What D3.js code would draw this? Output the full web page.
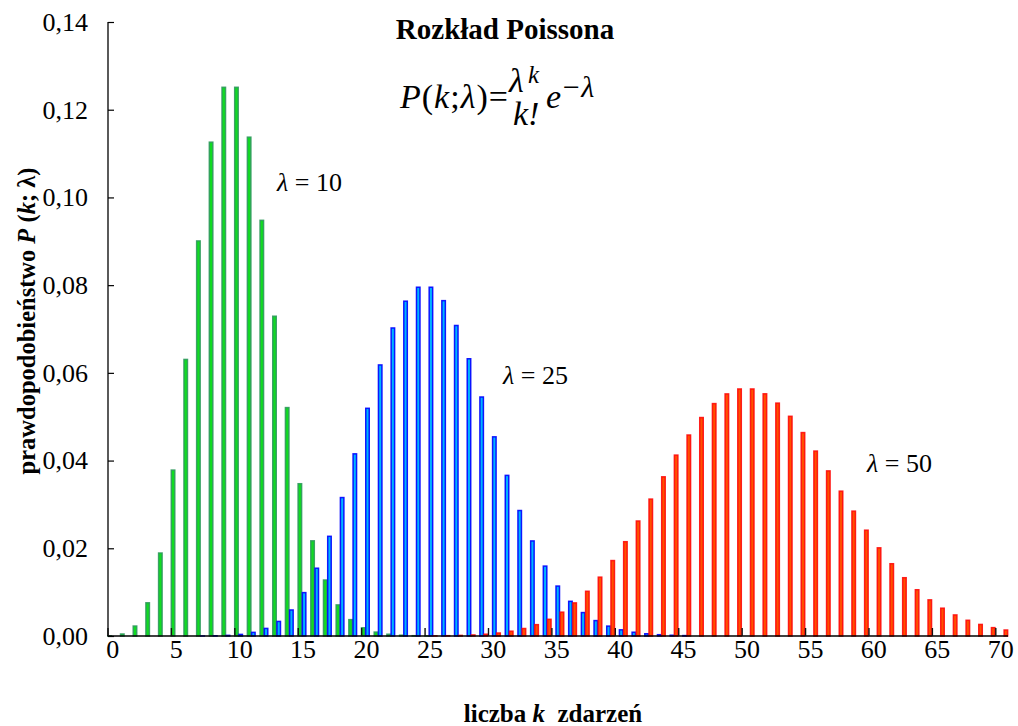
<!DOCTYPE html>
<html>
<head>
<meta charset="utf-8">
<script src="https://cdn.jsdelivr.net/npm/d3@7"></script>
</head>
<body style="margin:0;padding:0;background:#fff">
<svg id="chart" width="1018" height="726" font-family="Liberation Serif"></svg>
<script>
// ---- data ----
const categories = d3.range(0, 71);           // k = 0 .. 70
const xTickValues = [0, 5, 10, 15, 20, 25, 30, 35, 40, 45, 50, 55, 60, 65, 70];
const yTickValues = [0, 0.02, 0.04, 0.06, 0.08, 0.10, 0.12, 0.14];

// lambda = 10, k = 0 .. 25
const kGreen = d3.range(0, 26);
const valGreen = [0.0000454, 0.000454, 0.00227, 0.00757, 0.01892, 0.03783, 0.06306, 0.09008,
  0.11260, 0.12511, 0.12511, 0.11374, 0.09478, 0.07291, 0.05208, 0.03472, 0.02170, 0.01276,
  0.00709, 0.00373, 0.00187, 0.00089, 0.00040, 0.00018, 0.00007, 0.00003];

// lambda = 25, k = 7 .. 45
const kBlue = d3.range(7, 46);
const valBlue = [0.0000168, 0.0000526, 0.000146, 0.000365, 0.000829, 0.001728, 0.003324, 0.005935,
  0.009891, 0.015455, 0.022728, 0.031566, 0.041534, 0.051918, 0.061807, 0.070235, 0.076342,
  0.079523, 0.079523, 0.076465, 0.070801, 0.063215, 0.054496, 0.045413, 0.036624, 0.028612,
  0.021676, 0.015938, 0.011384, 0.007906, 0.005342, 0.003514, 0.002253, 0.001408, 0.000859,
  0.000511, 0.000297, 0.000169, 0.0000938];

// lambda = 50, k = 25 .. 70
const kRed = d3.range(25, 71);
const valRed = [0.0000371, 0.0000713, 0.000132, 0.000236, 0.000406, 0.000677, 0.001092, 0.001707,
  0.002586, 0.003803, 0.005432, 0.007545, 0.010196, 0.013416, 0.017200, 0.021500, 0.026219,
  0.031213, 0.036294, 0.041243, 0.045826, 0.049811, 0.052991, 0.055199, 0.056325, 0.056325,
  0.055221, 0.053097, 0.050091, 0.046381, 0.042164, 0.037646, 0.033023, 0.028468, 0.024125,
  0.020104, 0.016479, 0.013289, 0.010547, 0.008240, 0.006338, 0.004802, 0.003583, 0.002635,
  0.001909, 0.001364];

const seriesLabels = ["λ = 10", "λ = 25", "λ = 50"];

// ---- layout ----
const FONT = "Liberation Serif";
const svg = d3.select("#chart");
const x = d3.scaleBand().domain(categories).range([107.5, 1008]).paddingInner(0).paddingOuter(0);
const y = d3.scaleLinear().domain([0, 0.14]).range([636, 22]);
const bw = x.bandwidth();

const series = [
  { k: kGreen, v: valGreen, off: 1/6, fill: "#10dd20", stroke: "#2f9a5c" },
  { k: kBlue,  v: valBlue,  off: 1/2, fill: "#00b4ff", stroke: "#0000ff" },
  { k: kRed,   v: valRed,   off: 5/6, fill: "#ff5000", stroke: "#ff0a0a" }
];

const barW = 3.5;
series.forEach(s => {
  svg.append("g").selectAll("rect")
    .data(s.k.map((k, i) => ({ k, v: s.v[i] })))
    .join("rect")
    .attr("x", d => x(d.k) + bw * s.off - barW / 2)
    .attr("y", d => y(d.v))
    .attr("width", barW)
    .attr("height", d => Math.max(0, y(0) - y(d.v)))
    .attr("fill", s.fill)
    .attr("stroke", s.stroke)
    .attr("stroke-opacity", 0.9)
    .attr("stroke-width", 1.5);
});

// ---- y axis ----
const fmt = v => d3.format(".2f")(v).replace(".", ",");
const yAxis = d3.axisLeft(y).tickValues(yTickValues).tickSize(-6).tickPadding(20).tickFormat(fmt);
const gy = svg.append("g").attr("transform", "translate(108,0)").call(yAxis)
  .attr("font-family", FONT).attr("font-size", 26);
gy.select(".domain").attr("stroke", "#000").attr("stroke-width", 1.3).attr("d", "M0,22V636");
gy.selectAll(".tick line").attr("stroke", "#000").attr("stroke-width", 1.2);
gy.selectAll(".tick text").attr("font-size", 26).attr("fill", "#000").attr("font-family", FONT);

// ---- x axis ----
const gx = svg.append("g");
gx.append("line").attr("x1", 107.5).attr("x2", 1008).attr("y1", y(0)).attr("y2", y(0))
  .attr("stroke", "#000").attr("stroke-width", 1.6);
gx.selectAll("line.tk").data(xTickValues).join("line").attr("class", "tk")
  .attr("x1", d => x(d) + 0.5).attr("x2", d => x(d) + 0.5)
  .attr("y1", y(0)).attr("y2", y(0) - 8)
  .attr("stroke", "#111").attr("stroke-width", 1.4);
gx.selectAll("text").data(xTickValues).join("text")
  .attr("x", d => x(d) + bw / 2 - 1)
  .attr("y", 658)
  .attr("text-anchor", "middle")
  .attr("font-family", FONT)
  .attr("font-size", 26)
  .text(d => d);

// ---- titles ----
svg.append("text").attr("x", 505).attr("y", 39).attr("text-anchor", "middle")
  .attr("font-family", FONT)
  .attr("font-size", 29).attr("font-weight", "bold").text("Rozkład Poissona");

// formula
const f = svg.append("g").attr("font-size", 34).attr("font-family", FONT);
const t1 = f.append("text").attr("x", 400).attr("y", 108).attr("letter-spacing", 1);
t1.append("tspan").attr("font-style", "italic").text("P");
t1.append("tspan").text("(");
t1.append("tspan").attr("font-style", "italic").text("k");
t1.append("tspan").text(";");
t1.append("tspan").attr("font-style", "italic").text("λ");
t1.append("tspan").text(")=");
f.append("text").attr("x", 509).attr("y", 92).attr("font-style", "italic").text("λ");
f.append("text").attr("x", 528).attr("y", 83).attr("font-style", "italic").attr("font-size", 25).text("k");
f.append("text").attr("x", 513).attr("y", 125).attr("font-style", "italic").text("k!");
f.append("text").attr("x", 546).attr("y", 108).attr("font-style", "italic").text("e");
f.append("text").attr("x", 561).attr("y", 97).attr("font-style", "italic").attr("font-size", 30).text("−λ");

// series labels
const labelPos = [[277, 191], [503, 384], [867, 472]];
seriesLabels.forEach((lab, i) => {
  const t = svg.append("text").attr("x", labelPos[i][0]).attr("y", labelPos[i][1])
    .attr("font-family", FONT).attr("font-size", 26);
  t.append("tspan").attr("font-style", "italic").text(lab.slice(0, 1));
  t.append("tspan").text(lab.slice(1));
});

// axis titles
const yl = svg.append("text").attr("transform", "translate(35,321) rotate(-90)")
  .attr("font-family", FONT)
  .attr("text-anchor", "middle").attr("font-size", 24.5).attr("font-weight", "bold");
yl.append("tspan").text("prawdopodobieństwo ");
yl.append("tspan").attr("font-style", "italic").text("P");
yl.append("tspan").text(" (");
yl.append("tspan").attr("font-style", "italic").text("k");
yl.append("tspan").text("; λ)");

const xl = svg.append("text").attr("x", 553).attr("y", 722).attr("text-anchor", "middle")
  .attr("font-family", FONT)
  .attr("font-size", 25).attr("font-weight", "bold").style("white-space", "pre");
xl.append("tspan").text("liczba ");
xl.append("tspan").attr("font-style", "italic").text("k");
xl.append("tspan").text("  zdarzeń");
</script>
</body>
</html>
